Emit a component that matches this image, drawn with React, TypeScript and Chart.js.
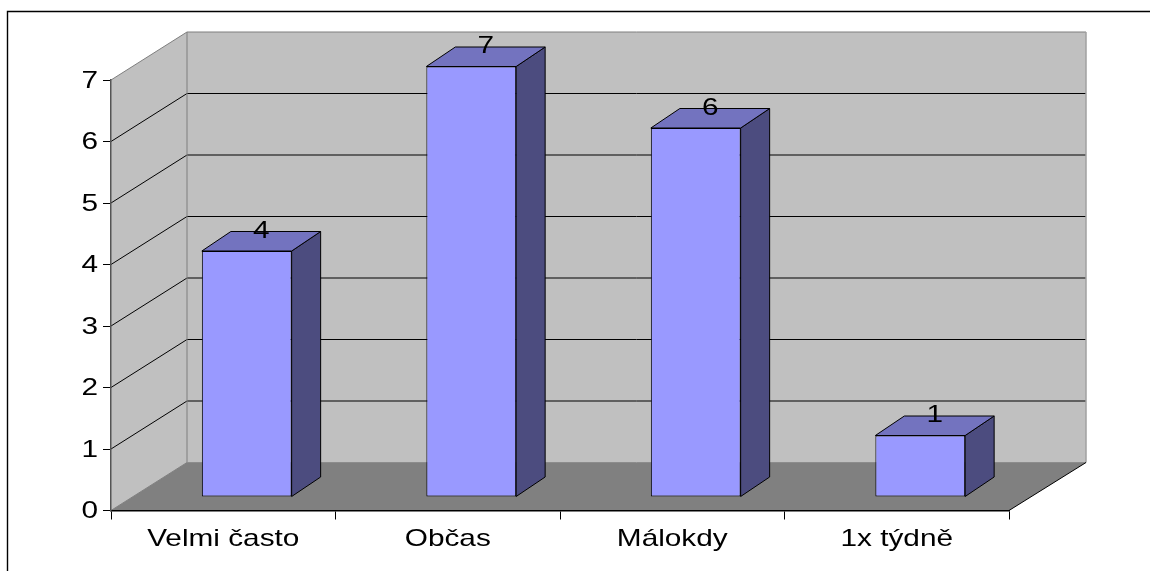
import React, { useEffect, useRef } from "react";
import { Chart, registerables } from "chart.js";

Chart.register(...registerables);

const categories = ["Velmi často", "Občas", "Málokdy", "1x týdně"];
const counts = [4, 7, 6, 1];
const axisMax = 7;
const axisStep = 1;

const wallColor = "#C0C0C0";
const floorColor = "#808080";
const frontColor = "#9999FF";
const topColor = "#7373BF";
const sideColor = "#4C4C7F";
const edgeGray = "#7F7F7F";

const FONT = '24px "Liberation Sans", Arial, sans-serif';
const STRETCH = 1.24;
const DEPTH_X = 76;
const DEPTH_Y = 48;
const BAR_SHIFT_X = 23.5;
const BAR_SHIFT_Y = 13.5;
const BAR_DEPTH_X = 29;
const BAR_DEPTH_Y = 19.5;

function stretchedText(ctx: CanvasRenderingContext2D, text: string, x: number, y: number, align: CanvasTextAlign) {
  ctx.save();
  ctx.translate(x, y);
  ctx.scale(STRETCH, 1);
  ctx.font = FONT;
  ctx.fillStyle = "#000";
  ctx.textAlign = align;
  ctx.textBaseline = "middle";
  ctx.fillText(text, 0, 0);
  ctx.restore();
}

function poly(ctx: CanvasRenderingContext2D, pts: number[][], fill: string | null, stroke: string | null, lw = 1) {
  ctx.beginPath();
  pts.forEach((p, i) => (i ? ctx.lineTo(p[0], p[1]) : ctx.moveTo(p[0], p[1])));
  if (fill) {
    ctx.closePath();
    ctx.fillStyle = fill;
    ctx.fill();
  }
  if (stroke) {
    ctx.strokeStyle = stroke;
    ctx.lineWidth = lw;
    ctx.stroke();
  }
}

const scene3d = {
  id: "scene3d",
  beforeDraw(chart: any) {
    const { ctx, chartArea: a, scales } = chart;
    const y = scales.y;
    const { left: L, right: R, top: T, bottom: B } = a;
    ctx.save();
    ctx.fillStyle = "#fff";
    ctx.fillRect(0, 0, chart.width, chart.height);
    // frame
    ctx.beginPath();
    ctx.moveTo(7.5, chart.height);
    ctx.lineTo(7.5, 11.5);
    ctx.lineTo(chart.width, 11.5);
    ctx.strokeStyle = "#000";
    ctx.lineWidth = 1.4;
    ctx.stroke();
    const bL = L + DEPTH_X;
    const bR = R + DEPTH_X + 1;
    const bT = T - DEPTH_Y;
    const bB = B - DEPTH_Y;
    // back wall, side wall, floor
    poly(ctx, [[bL, bT], [bR, bT], [bR, bB], [bL, bB]], wallColor, null);
    poly(ctx, [[L, T], [bL, bT], [bL, bB], [L, B]], wallColor, null);
    poly(ctx, [[L, B], [R, B], [bR, bB], [bL, bB]], floorColor, null);
    // gridlines
    y.ticks.forEach((t: any) => {
      const p = y.getPixelForValue(t.value);
      if (t.value === y.min) return;
      const c = t.value === y.max ? edgeGray : "#000";
      poly(ctx, [[L, p], [bL, p - DEPTH_Y], [bR, p - DEPTH_Y]], null, c, 1);
    });
    poly(ctx, [[bL, bT], [bL, bB]], null, edgeGray, 1);
    poly(ctx, [[bR, bT], [bR, bB]], null, "#A0A0A0", 1.5);
    poly(ctx, [[bL, bB], [bR, bB]], null, "#8C8C8C", 1);
    poly(ctx, [[L, B], [bL, bB]], null, edgeGray, 1);
    poly(ctx, [[R, B], [bR, bB]], null, "#000", 1);
    ctx.restore();
  },
  beforeDatasetsDraw(chart: any) {
    const { ctx } = chart;
    const meta = chart.getDatasetMeta(0);
    ctx.save();
    ctx.translate(BAR_SHIFT_X, -BAR_SHIFT_Y);
    meta.data.forEach((bar: any) => {
      const l = bar.x - bar.width / 2;
      const r = bar.x + bar.width / 2;
      const dx = BAR_DEPTH_X;
      const dy = BAR_DEPTH_Y;
      poly(ctx, [[r, bar.y], [r + dx, bar.y - dy], [r + dx, bar.base - dy], [r, bar.base]], sideColor, "#000", 1);
      poly(ctx, [[l, bar.y], [l + dx, bar.y - dy], [r + dx, bar.y - dy], [r, bar.y]], topColor, "#000", 1);
    });
  },
  afterDatasetsDraw(chart: any) {
    chart.ctx.restore();
  },
  afterDraw(chart: any) {
    const { ctx, scales } = chart;
    const x = scales.x;
    const y = scales.y;
    y.ticks.forEach((t: any) => {
      stretchedText(ctx, String(t.value), 98, y.getPixelForValue(t.value) + 1, "right");
    });
    categories.forEach((c, i) => {
      stretchedText(ctx, c, x.getPixelForTick(i), 539, "center");
    });
    const meta = chart.getDatasetMeta(0);
    meta.data.forEach((bar: any, i: number) => {
      stretchedText(
        ctx,
        String(counts[i]),
        bar.x + BAR_SHIFT_X + BAR_DEPTH_X / 2,
        bar.y - BAR_SHIFT_Y - 20,
        "center"
      );
    });
  },
};

export default function App() {
  const ref = useRef<HTMLCanvasElement>(null);
  useEffect(() => {
    const chart = new Chart(ref.current as HTMLCanvasElement, {
      type: "bar",
      data: {
        labels: categories,
        datasets: [
          {
            data: counts,
            backgroundColor: frontColor,
            borderColor: "#000",
            borderWidth: 1,
            borderSkipped: false,
            categoryPercentage: 1,
            barPercentage: 0.4,
            clip: false as any,
          },
        ],
      },
      options: {
        responsive: false,
        animation: false,
        layout: { padding: { left: 0, top: 80, right: 141, bottom: 0 } },
        plugins: { legend: { display: false }, tooltip: { enabled: false } },
        scales: {
          x: {
            grid: { drawOnChartArea: false, drawTicks: true, tickLength: 9, color: "#000", lineWidth: 1 },
            border: { color: "#000", width: 1.5 },
            ticks: { display: false },
            afterFit: (s: any) => {
              s.height = 60.5;
            },
          },
          y: {
            min: 0,
            max: axisMax,
            grid: { drawOnChartArea: false, drawTicks: true, tickLength: 8, color: "#000", lineWidth: 1 },
            border: { color: "#555", width: 1.5 },
            ticks: { display: false, stepSize: axisStep },
            afterFit: (s: any) => {
              s.width = 111;
            },
          },
        },
      },
      plugins: [scene3d as any],
    });
    return () => chart.destroy();
  }, []);
  return (
    <div style={{ position: "absolute", left: 0, top: 0, width: 1150, height: 571 }}>
      <canvas ref={ref} width={1150} height={571} style={{ display: "block" }} />
    </div>
  );
}
